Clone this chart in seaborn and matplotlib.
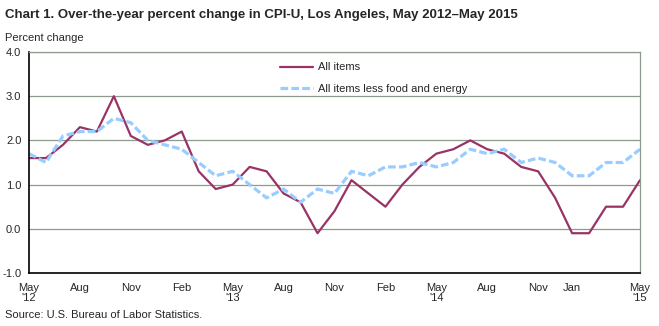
import matplotlib
matplotlib.use("Agg")
import matplotlib.pyplot as plt
import seaborn as sns
import pandas as pd
import numpy as np

# ---- data ----
months = ["May 2012", "Jun 2012", "Jul 2012", "Aug 2012", "Sep 2012", "Oct 2012", "Nov 2012",
          "Dec 2012", "Jan 2013", "Feb 2013", "Mar 2013", "Apr 2013", "May 2013", "Jun 2013",
          "Jul 2013", "Aug 2013", "Sep 2013", "Oct 2013", "Nov 2013", "Dec 2013", "Jan 2014",
          "Feb 2014", "Mar 2014", "Apr 2014", "May 2014", "Jun 2014", "Jul 2014", "Aug 2014",
          "Sep 2014", "Oct 2014", "Nov 2014", "Dec 2014", "Jan 2015", "Feb 2015", "Mar 2015",
          "Apr 2015", "May 2015"]
all_items = [1.6, 1.6, 1.9, 2.3, 2.2, 3.0, 2.1, 1.9, 2.0, 2.2, 1.3, 0.9, 1.0,
             1.4, 1.3, 0.8, 0.6, -0.1, 0.4, 1.1, 0.8, 0.5, 1.0, 1.4, 1.7,
             1.8, 2.0, 1.8, 1.7, 1.4, 1.3, 0.7, -0.1, -0.1, 0.5, 0.5, 1.1]
core = [1.7, 1.5, 2.1, 2.2, 2.2, 2.5, 2.4, 2.0, 1.9, 1.8, 1.5, 1.2, 1.3,
        1.0, 0.7, 0.9, 0.6, 0.9, 0.8, 1.3, 1.2, 1.4, 1.4, 1.5, 1.4,
        1.5, 1.8, 1.7, 1.8, 1.5, 1.6, 1.5, 1.2, 1.2, 1.5, 1.5, 1.8]
tick_labels = {0: "May\n'12", 3: "Aug", 6: "Nov", 9: "Feb", 12: "May\n'13", 15: "Aug",
               18: "Nov", 21: "Feb", 24: "May\n'14", 27: "Aug", 30: "Nov", 32: "Jan",
               36: "May\n'15"}
y_ticks = [-1.0, 0.0, 1.0, 2.0, 3.0, 4.0]

df = pd.DataFrame({"idx": np.arange(len(months)), "month": months,
                   "All items": all_items,
                   "All items less food and energy": core})

sns.set_style("white")
plt.rcParams["font.family"] = ["Liberation Sans", "DejaVu Sans"]

W, H = 659, 326
fig = plt.figure(figsize=(W / 100, H / 100), dpi=100)
ax = fig.add_axes([29 / W, (H - 273) / H, (640 - 29) / W, (273 - 52) / H])

sns.lineplot(data=df, x="idx", y="All items", ax=ax, color="#993366",
             linewidth=1.6, label="All items")
sns.lineplot(data=df, x="idx", y="All items less food and energy", ax=ax,
             color="#99ccff", linewidth=2.3, label="All items less food and energy")
ax.lines[1].set_dashes((2.4, 1.0))

ax.set_xlim(0, len(months) - 1)
ax.set_ylim(-1.0, 4.0)
ax.set_yticks(y_ticks)
ax.set_yticklabels([f"{v:.1f}" for v in y_ticks], fontsize=8)
ax.set_xticks(df["idx"])
ax.set_xticklabels([tick_labels.get(i, "") for i in df["idx"]], fontsize=8,
                   linespacing=1.0)
ax.tick_params(axis="x", direction="inout", length=5, width=1, color="black", pad=5)
ax.tick_params(axis="y", length=0, pad=5.5)
ax.set_xlabel("")
ax.set_ylabel("")

for v in y_ticks[1:]:
    ax.axhline(v, color="#8f9a8f", linewidth=0.9, zorder=0)

for s in ["left", "bottom"]:
    ax.spines[s].set_color("black")
    ax.spines[s].set_linewidth(1.2)
for s in ["top", "right"]:
    ax.spines[s].set_color("#8f9a8f")
    ax.spines[s].set_linewidth(0.9)

leg = ax.legend(loc="upper left", bbox_to_anchor=((276 - 29) / (640 - 29), 1 - (58 - 52) / 221),
                frameon=False, fontsize=8, handlelength=2.9, handletextpad=0.45,
                labelspacing=1.05, borderaxespad=0)

fig.text(5 / W, 1 - 15 / H, "Chart 1. Over-the-year percent change in CPI-U, Los Angeles, May 2012\u2013May 2015",
         fontsize=9.5, fontweight="bold", va="center", ha="left")
fig.text(5 / W, 1 - 38 / H, "Percent change", fontsize=8, va="center", ha="left")
fig.text(5 / W, 1 - 315 / H, "Source: U.S. Bureau of Labor Statistics.", fontsize=8,
         va="center", ha="left")

fig.savefig("out.png", dpi=100)
